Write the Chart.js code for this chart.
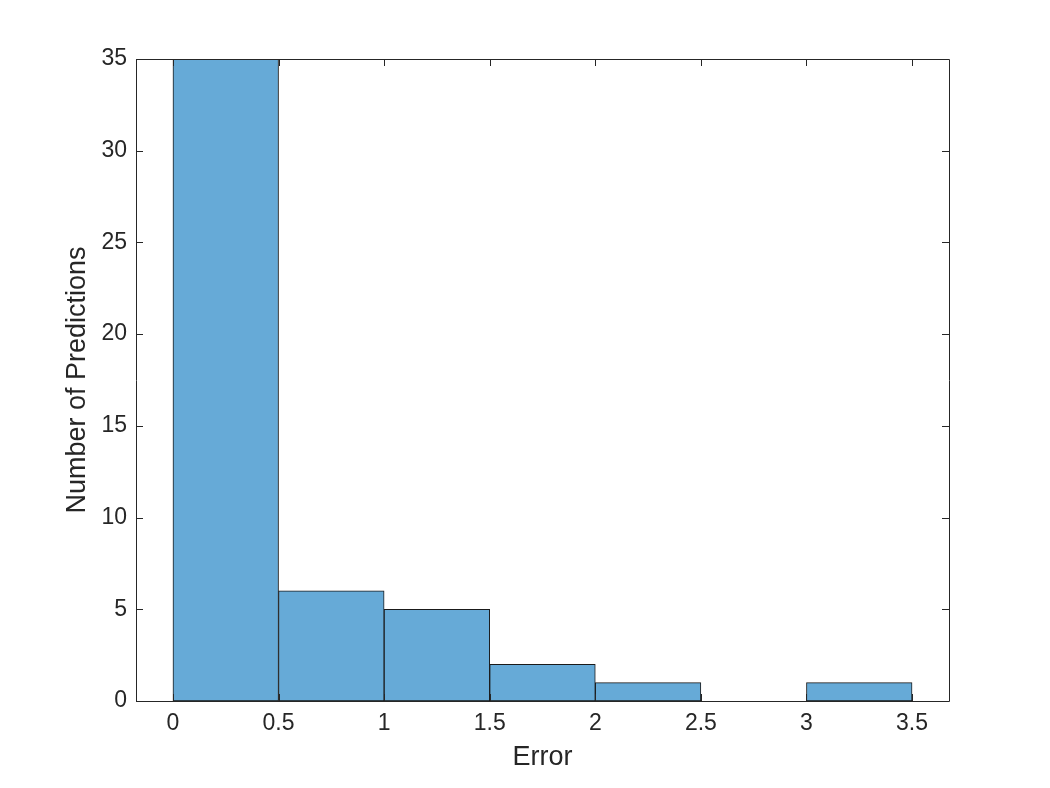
<!DOCTYPE html>
<html>
<head>
<meta charset="utf-8">
<script src="https://cdn.jsdelivr.net/npm/chart.js@4/dist/chart.umd.min.js"></script>
<style>
  html, body { margin: 0; padding: 0; background: #fff; }
  #wrap { width: 1050px; height: 788px; position: relative; }
</style>
</head>
<body>
<div id="wrap"><canvas id="c"></canvas></div>
<script>
// histogram of prediction errors, bin width 0.5
const binCenters = [0.25, 0.75, 1.25, 1.75, 2.25, 2.75, 3.25];
const binCounts = [35, 6, 5, 2, 1, 0, 1];
const xTicks = [0, 0.5, 1, 1.5, 2, 2.5, 3, 3.5];
const yTicks = [0, 5, 10, 15, 20, 25, 30, 35];

const INK = "#262626";
const FONT = "'Liberation Sans', Arial, Helvetica, sans-serif";

// MATLAB-style box: frame on all four sides, ticks pointing inward
const boxTicks = {
  id: "boxTicks",
  afterDatasetsDraw(chart) {
    const { ctx, chartArea: a, scales: { x, y } } = chart;
    const L = 7;
    ctx.save();
    ctx.strokeStyle = INK;
    ctx.lineWidth = 1;
    ctx.beginPath();
    ctx.rect(Math.round(a.left) + 0.5, Math.round(a.top) + 0.5,
             Math.round(a.right - a.left), Math.round(a.bottom - a.top));
    xTicks.forEach(v => {
      const px = Math.round(x.getPixelForValue(v)) + 0.5;
      ctx.moveTo(px, a.bottom); ctx.lineTo(px, a.bottom - L);
      ctx.moveTo(px, a.top); ctx.lineTo(px, a.top + L);
    });
    yTicks.forEach(v => {
      const py = Math.round(y.getPixelForValue(v)) + 0.5;
      ctx.moveTo(a.left, py); ctx.lineTo(a.left + L, py);
      ctx.moveTo(a.right, py); ctx.lineTo(a.right - L, py);
    });
    ctx.stroke();
    ctx.restore();
  },
};

new Chart(document.getElementById("c"), {
  type: "bar",
  data: {
    datasets: [{
      data: binCenters.map((c, i) => ({ x: c, y: binCounts[i] })),
      backgroundColor: "#66aad7",
      borderColor: "#1a1a1a",
      borderWidth: 1,
      borderSkipped: false,
      barPercentage: 1,
      categoryPercentage: 1,
    }],
  },
  options: {
    responsive: true, maintainAspectRatio: false, animation: false,
    layout: { padding: { left: 0, top: 59, right: 101, bottom: 0 } },
    plugins: { legend: { display: false }, tooltip: { enabled: false } },
    scales: {
      x: {
        type: "linear", min: -0.175, max: 3.675, offset: false,
        grid: { display: false, drawTicks: false },
        border: { display: false },
        afterBuildTicks: s => { s.ticks = xTicks.map(v => ({ value: v })); },
        afterFit: s => { s.height = 87; },
        ticks: { color: INK, padding: 9, maxRotation: 0, callback: v => String(v),
                 font: { family: FONT, size: 23 } },
        title: { display: true, text: "Error", color: INK, padding: { top: 0, bottom: 14 },
                 font: { family: FONT, size: 27 } },
      },
      y: {
        min: 0, max: 35,
        grid: { display: false, drawTicks: false },
        border: { display: false },
        afterBuildTicks: s => { s.ticks = yTicks.map(v => ({ value: v })); },
        afterFit: s => { s.width = 136; },
        ticks: { color: INK, padding: 9, callback: v => String(v), font: { family: FONT, size: 23 } },
        title: { display: true, text: "Number of Predictions", color: INK, padding: { top: 61, bottom: 0 },
                 font: { family: FONT, size: 27 } },
      },
    },
  },
  plugins: [boxTicks],
});
</script>
</body>
</html>
